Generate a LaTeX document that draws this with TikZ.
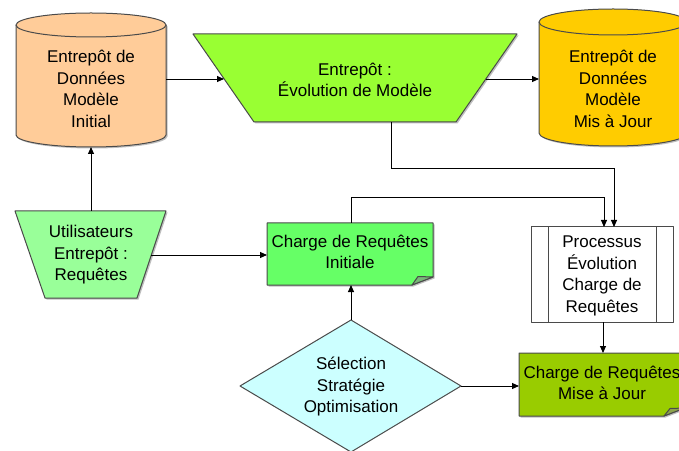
\documentclass[tikz,border=0pt]{standalone}
\usepackage{fontspec}
\setmainfont{Liberation Sans}
\usetikzlibrary{arrows.meta,shadows}
\definecolor{cpeach}{HTML}{FFCC99}
\definecolor{clime}{HTML}{99FF33}
\definecolor{cgold}{HTML}{FFCC00}
\definecolor{cuser}{HTML}{99FF99}
\definecolor{cinit}{HTML}{66FF66}
\definecolor{cmaj}{HTML}{99CC00}
\definecolor{cdiam}{HTML}{CCFFFF}
\definecolor{linegray}{HTML}{4A4A4A}
\begin{document}
\begin{tikzpicture}[x=1pt,y=1pt,
  shp/.style={draw=linegray, line width=1pt, line join=round,
    drop shadow={shadow xshift=1.5pt,shadow yshift=-1.5pt,fill=black,opacity=0.25}},
  plain/.style={draw=linegray, line width=1pt, line join=round},
  txt/.style={align=center, font=\fontsize{17}{21.5}\selectfont, inner sep=0pt},
  arr/.style={draw=black, line width=0.9pt, -{Triangle[length=7pt,width=6pt]}}]
\useasboundingbox (0,0) rectangle (679,450);
\clip (0,0) rectangle (679,450);

% cylinder 1
\path[shp, fill=cpeach] (16,425) -- (16,315)
  arc[start angle=180,end angle=360,x radius=75,y radius=12] -- (166,425)
  arc[start angle=0,end angle=180,x radius=75,y radius=12] -- cycle;
\draw[plain] (16,425) arc[start angle=180,end angle=360,x radius=75,y radius=12];
\node[txt] (cyl1) at (91,361) {Entrepôt de\\Données\\Modèle\\Initial};

% cylinder 3
\path[shp, fill=cgold] (539,428) -- (539,317)
  arc[start angle=180,end angle=360,x radius=74,y radius=13] -- (687,428)
  arc[start angle=0,end angle=180,x radius=74,y radius=13] -- cycle;
\draw[plain] (539,428) arc[start angle=180,end angle=360,x radius=74,y radius=13];
\node[txt] (cyl3) at (613,361) {Entrepôt de\\Données\\Modèle\\Mis à Jour};

% evolution trapezoid
\path[shp, fill=clime] (193,416) -- (517,416) -- (456,328) -- (254,328) -- cycle;
\node[txt] (evol) at (355,370) {Entrepôt :\\Évolution de Modèle};

% utilisateurs trapezoid
\path[shp, fill=cuser] (15,239) -- (166,239) -- (137,152) -- (45,152) -- cycle;
\node[txt] (user) at (91,195) {Utilisateurs\\Entrepôt :\\Requêtes};

% charge initiale (document with folded corner)
\path[shp, fill=cinit] (267,227) -- (433,227) -- (433,173) -- (412,165) -- (267,165) -- cycle;
\path[plain, fill=cinit!60!black!70] (412,165) -- (418,173.5) -- (433,173) -- cycle;
\node[txt] (cinitn) at (350,198) {Charge de Requêtes\\Initiale};

% processus
\path[plain, fill=white] (531,128) rectangle (673,223);
\draw[plain] (548,128) -- (548,223) (656,128) -- (656,223);
\node[txt] (proc) at (602,174) {Processus\\Évolution\\Charge de\\Requêtes};

% charge mise a jour
\path[shp, fill=cmaj] (519,97) -- (685,97) -- (685,42) -- (664,34) -- (519,34) -- cycle;
\path[plain, fill=cmaj!60!black!70] (664,34) -- (670,41.5) -- (685,42) -- cycle;
\node[txt] (cmajn) at (602,67) {Charge de Requêtes\\Mise à Jour};

% diamond
\path[plain, fill=cdiam] (351,130) -- (461,64) -- (351,-2) -- (240,64) -- cycle;
\node[txt] (diam) at (351,63) {Sélection\\Stratégie\\Optimisation};

% connection points
\coordinate (c1b) at (91,303);
\coordinate (c1r) at (166,371);
\coordinate (evl) at (224,371);
\coordinate (evr) at (486,371);
\coordinate (c3l) at (539,371);
\coordinate (evb) at (391,328);
\coordinate (pin1) at (604,223);
\coordinate (pin2) at (614,223);
\coordinate (pbot) at (603,128);
\coordinate (mtop) at (603,97);
\coordinate (mleft) at (519,64);
\coordinate (dright) at (461,64);
\coordinate (dtop) at (351,130);
\coordinate (cibot) at (351,165);
\coordinate (citop) at (351,227);
\coordinate (cileft) at (267,195);
\coordinate (uright) at (151,195);
\coordinate (utop) at (91,239);

% connectors
\draw[arr] (utop) -- (c1b);
\draw[arr] (c1r) -- (evl);
\draw[arr] (evr) -- (c3l);
\draw[arr] (evb) -- ++(0,-46) -| (pin2);
\draw[arr] (citop) -- ++(0,26) -| (pin1);
\draw[arr] (pbot) -- (mtop);
\draw[arr] (dright) -- (mleft);
\draw[arr] (dtop) -- (cibot);
\draw[arr] (uright) -- (cileft);
\end{tikzpicture}
\end{document}
